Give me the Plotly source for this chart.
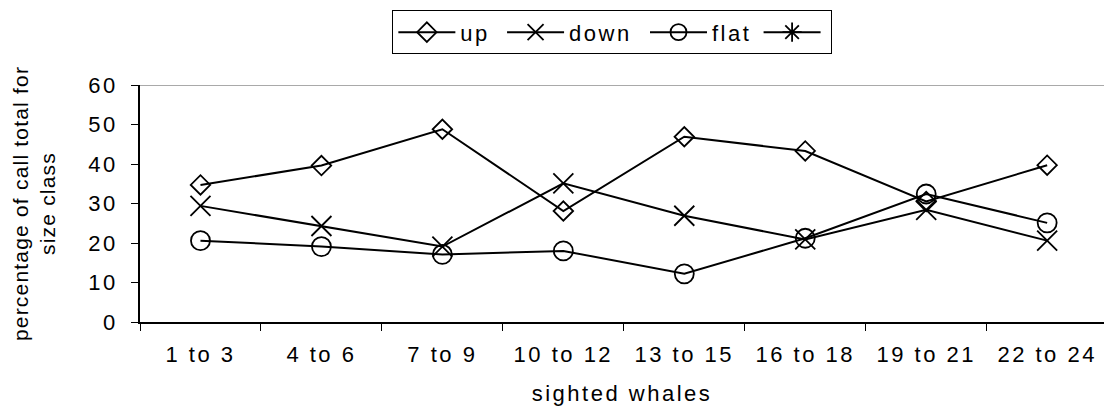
import plotly.graph_objects as go

# Size classes of sighted whales (x categories)
categories = ["1 to 3", "4 to 6", "7 to 9", "10 to 12",
              "13 to 15", "16 to 18", "19 to 21", "22 to 24"]

# Percentage of call total for each size class, by call contour
up_vals = [34.7, 39.6, 48.8, 28.1, 46.9, 43.3, 30.5, 39.7]
down_vals = [29.4, 24.3, 19.1, 35.1, 26.9, 20.9, 28.4, 20.6]
flat_vals = [20.6, 19.1, 17.1, 18.0, 12.2, 21.2, 32.4, 25.1]
other_vals = [None] * len(categories)  # fourth series: legend entry only

y_ticks = [0, 10, 20, 30, 40, 50, 60]

FONT = "Liberation Sans, Arial, sans-serif"
BLACK = "#000000"
FS = 22
NBSP = "\u00a0"

series = [
    ("up" + NBSP * 2, up_vals, "diamond-open", 15),
    ("down" + NBSP * 3, down_vals, "x-thin-open", 20),
    ("flat" + NBSP * 2, flat_vals, "circle-open", 19),
    ("", other_vals, "asterisk-open", 18),
]

fig = go.Figure()
for name, vals, symbol, size in series:
    fig.add_trace(go.Scatter(
        x=categories, y=vals, name=name, mode="lines+markers",
        line=dict(color=BLACK, width=2),
        marker=dict(symbol=symbol, size=size, color=BLACK,
                    line=dict(color=BLACK, width=1.8)),
        cliponaxis=False,
    ))

# grey border line along the top of the plot area
fig.add_shape(type="line", xref="paper", yref="y", x0=0, x1=1, y0=60, y1=60,
              line=dict(color="#8c8c8c", width=1.5), layer="above")

fig.update_layout(
    width=1104, height=410,
    margin=dict(l=140, r=0, t=85, b=88),
    paper_bgcolor="white", plot_bgcolor="white",
    font=dict(family=FONT, size=FS, color=BLACK),
    showlegend=True,
    legend=dict(
        orientation="h", x=0.49, xanchor="center",
        y=1.315, yanchor="top",
        bordercolor=BLACK, borderwidth=1, bgcolor="white",
        font=dict(family=FONT, size=FS, color=BLACK),
        itemwidth=57, tracegroupgap=0,
    ),
    xaxis=dict(
        type="category", categoryorder="array", categoryarray=categories,
        range=[-0.5, 7.47],
        showline=True, linecolor=BLACK, linewidth=1.5,
        ticks="outside", ticklen=7, tickcolor=BLACK, tickwidth=1,
        tickson="boundaries", showgrid=False, zeroline=False,
        ticklabelstandoff=12,
        tickfont=dict(family=FONT, size=FS, color=BLACK),
        title=dict(text="sighted whales", standoff=19,
                   font=dict(family=FONT, size=FS, color=BLACK)),
    ),
    yaxis=dict(
        range=[0, 60], tickvals=y_ticks,
        showline=True, linecolor=BLACK, linewidth=1.5,
        ticks="outside", ticklen=7, tickcolor=BLACK, tickwidth=1,
        showgrid=False, zeroline=False,
        ticklabelstandoff=9,
        tickfont=dict(family=FONT, size=FS, color=BLACK),
        title=dict(text="percentage of call total for<br>size class",
                   standoff=32,
                   font=dict(family=FONT, size=21, color=BLACK)),
    ),
)

# Wider letter spacing for chart text (tighter on the y title); redraw so
# text boxes are measured with the spacing applied.
spacing_js = """
var gd = document.getElementById('{plot_id}');
var st = document.createElement('style');
st.textContent = 'svg text { letter-spacing: 2.5px; } svg text.ytitle { letter-spacing: 1.2px; }';
document.head.appendChild(st);
Plotly.newPlot(gd, gd.data, gd.layout);
"""

fig.write_html("out.html", post_script=spacing_js)
